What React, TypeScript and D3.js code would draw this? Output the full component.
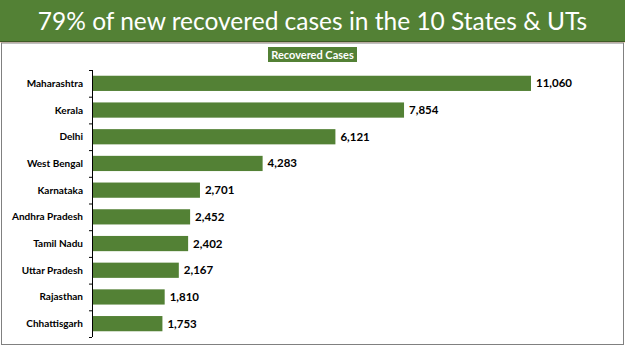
import React from "react";
import * as d3 from "d3";

const states = ["Maharashtra", "Kerala", "Delhi", "West Bengal", "Karnataka", "Andhra Pradesh", "Tamil Nadu", "Uttar Pradesh", "Rajasthan", "Chhattisgarh"];
const recovered = [11060, 7854, 6121, 4283, 2701, 2452, 2402, 2167, 1810, 1753];
const title = "79% of new recovered cases in the 10 States & UTs";
const seriesName = "Recovered Cases";

const W = 625, H = 351;
const GREEN = "#538135";

export default function App() {
  const x0 = 92, y0 = 70, y1 = 337;
  const x = d3.scaleLinear().domain([0, 11060]).range([x0 + 1, 531]);
  const y = d3.scaleBand<string>().domain(states).range([y0, y1]).paddingInner(0.43).paddingOuter(0.215);
  const yb = d3.scaleBand<string>().domain(states).range([y0, y1]);
  const fmt = d3.format(",");
  return (
    <div style={{ position: "absolute", left: 0, top: 0 }}>
      <svg width={W} height={H} style={{ display: "block" }}>
        <rect x={0} y={0} width={W} height={H} fill="#fff" />
        <rect x={0} y={0} width={W} height={41} fill={GREEN} />
        <line x1={0} x2={W} y1={41.5} y2={41.5} stroke="#3e5a26" strokeWidth={1} />
        <line x1={0} x2={W} y1={42.5} y2={42.5} stroke="#f4d9c4" strokeWidth={1} />
        <text x={W / 2} y={30} textAnchor="middle" fill="#fff" fontFamily="Lato" fontSize={24.5}>{title}</text>
        <rect x={1.5} y={43} width={622} height={301.5} fill="none" stroke="#808080" strokeWidth={1} />
        <rect x={268} y={47} width={89} height={15} fill={GREEN} />
        <text x={312.5} y={58.5} textAnchor="middle" fill="#fff" fontFamily="Lato" fontWeight="bold" fontSize={11}>{seriesName}</text>
        <line x1={x0 + 0.5} x2={x0 + 0.5} y1={y0} y2={y1} stroke="#000" strokeWidth={1} />
        {states.map((s, i) => (
          <line key={"t" + i} x1={x0 - 3} x2={x0} y1={(yb(s) as number) + 0.5} y2={(yb(s) as number) + 0.5} stroke="#000" />
        ))}
        <line x1={x0 - 3} x2={x0} y1={y1 + 0.5} y2={y1 + 0.5} stroke="#000" />
        {states.map((s, i) => (
          <g key={s}>
            <rect x={x(0)} y={y(s)} width={x(recovered[i]) - x(0)} height={y.bandwidth()} fill={GREEN} />
            <text x={83} y={(y(s) as number) + y.bandwidth() / 2 + 3.5} textAnchor="end" fontFamily="Lato" fontWeight="bold" fontSize={10} fill="#000">{s}</text>
            <text x={x(recovered[i]) + 5} y={(y(s) as number) + y.bandwidth() / 2 + 4} textAnchor="start" fontFamily="Lato" fontWeight="bold" fontSize={11.5} fill="#000">{fmt(recovered[i])}</text>
          </g>
        ))}
      </svg>
    </div>
  );
}
